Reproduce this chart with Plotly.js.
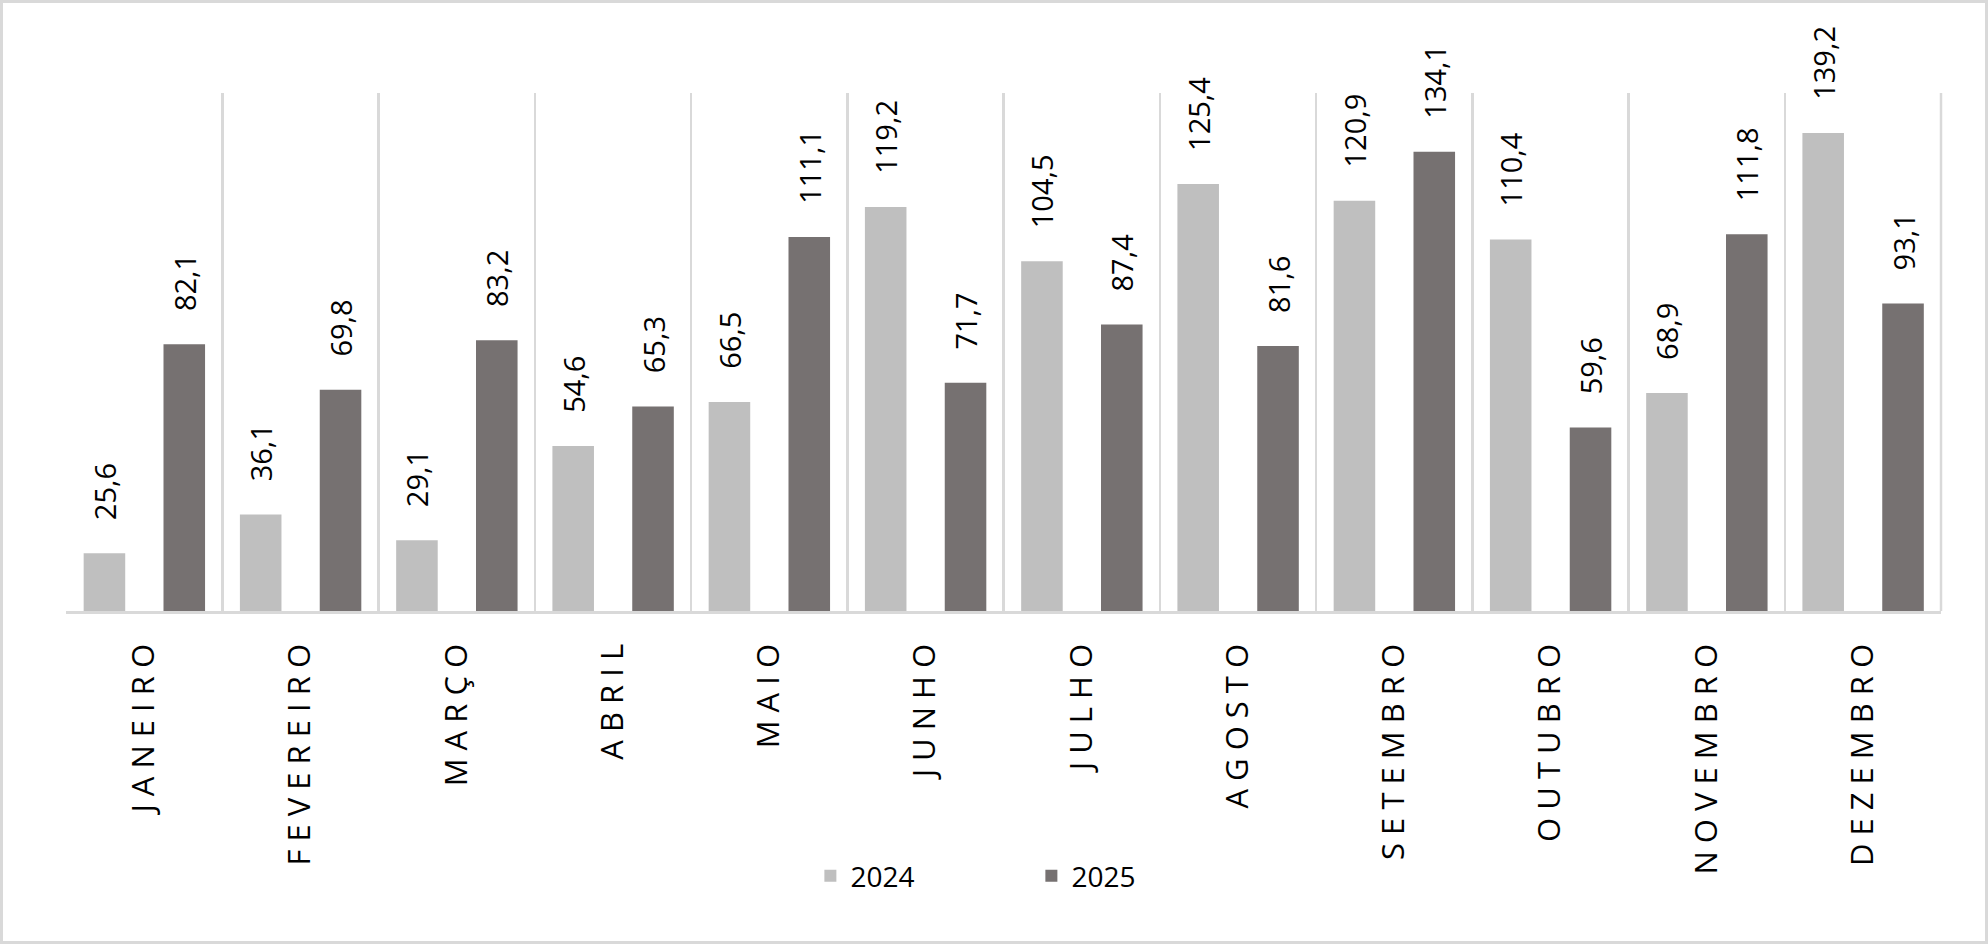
<!DOCTYPE html>
<html>
<head>
<meta charset="utf-8">
<script src="https://cdn.plot.ly/plotly-3.0.1.min.js"></script>
<style>
  body { margin: 0; background: #fff; }
  #wrap { position: relative; width: 1988px; height: 944px; }
  #frame {
    position: absolute; left: 0; top: 0; width: 1988px; height: 944px;
    box-sizing: border-box; border: 3px solid #d9d9d9; pointer-events: none;
  }
</style>
</head>
<body>
<div id="wrap">
  <div id="chart"></div>
  <div id="frame"></div>
</div>
<script>
const MESES = [
  'JANEIRO', 'FEVEREIRO', 'MARÇO', 'ABRIL', 'MAIO', 'JUNHO',
  'JULHO', 'AGOSTO', 'SETEMBRO', 'OUTUBRO', 'NOVEMBRO', 'DEZEMBRO',
];
const VALORES_2024 = [25.6, 36.1, 29.1, 54.6, 66.5, 119.2, 104.5, 125.4, 120.9, 110.4, 68.9, 139.2];
const VALORES_2025 = [82.1, 69.8, 83.2, 65.3, 111.1, 71.7, 87.4, 81.6, 134.1, 59.6, 111.8, 93.1];

// letras espaçadas como no gráfico original
function espacar(txt) {
  return txt.split('').join(' ');
}

// rótulo com vírgula decimal, com um recuo antes do número
function rotulo(v) {
  return '\u00a0\u00a0\u00a0\u00a0' + v.toFixed(1).replace('.', ',');
}

const labelFont = { family: 'Open Sans, sans-serif', size: 29, color: '#000' };

const trace2024 = {
  type: 'bar',
  name: '2024',
  x: MESES,
  y: VALORES_2024,
  width: 0.266,
  offset: -0.387,
  marker: { color: '#bfbfbf' },
  text: VALORES_2024.map(rotulo),
  textposition: 'outside',
  textangle: -90,
  textfont: labelFont,
  constraintext: 'none',
  cliponaxis: false,
  hoverinfo: 'skip',
};

const trace2025 = {
  type: 'bar',
  name: '2025',
  x: MESES,
  y: VALORES_2025,
  width: 0.266,
  offset: 0.124,
  marker: { color: '#767171' },
  text: VALORES_2025.map(rotulo),
  textposition: 'outside',
  textangle: -90,
  textfont: labelFont,
  constraintext: 'none',
  cliponaxis: false,
  hoverinfo: 'skip',
};

const layout = {
  width: 1988,
  height: 944,
  margin: { l: 66, r: 47, t: 93, b: 333 },
  paper_bgcolor: '#fff',
  plot_bgcolor: '#fff',
  barmode: 'overlay',
  font: { family: 'Open Sans, sans-serif', color: '#000' },
  xaxis: {
    type: 'category',
    tickmode: 'array',
    tickvals: MESES,
    ticktext: MESES.map(espacar),
    tickangle: -90,
    tickson: 'boundaries',
    ticks: '',
    showgrid: true,
    gridcolor: '#d9d9d9',
    gridwidth: 2.5,
    showline: true,
    linecolor: '#d9d9d9',
    linewidth: 2.5,
    tickfont: { family: 'Open Sans, sans-serif', size: 31, color: '#000' },
    ticklabelstandoff: 18,
  },
  yaxis: {
    range: [10, 150],
    visible: false,
    showgrid: false,
    zeroline: false,
  },
  // última linha de divisão à direita
  shapes: [
    {
      type: 'line',
      xref: 'paper', yref: 'paper',
      x0: 1, x1: 1, y0: 0, y1: 1,
      line: { color: '#d9d9d9', width: 2.5 },
      layer: 'below',
    },
  ],
  showlegend: true,
  legend: {
    orientation: 'h',
    x: 0.397,
    xanchor: 'left',
    y: -0.5116,
    yanchor: 'middle',
    entrywidth: 176,
    entrywidthmode: 'pixels',
    font: { family: 'Open Sans, sans-serif', size: 28, color: '#000' },
    traceorder: 'normal',
  },
};

Plotly.newPlot('chart', [trace2024, trace2025], layout, { displayModeBar: false, staticPlot: true });
</script>
</body>
</html>
